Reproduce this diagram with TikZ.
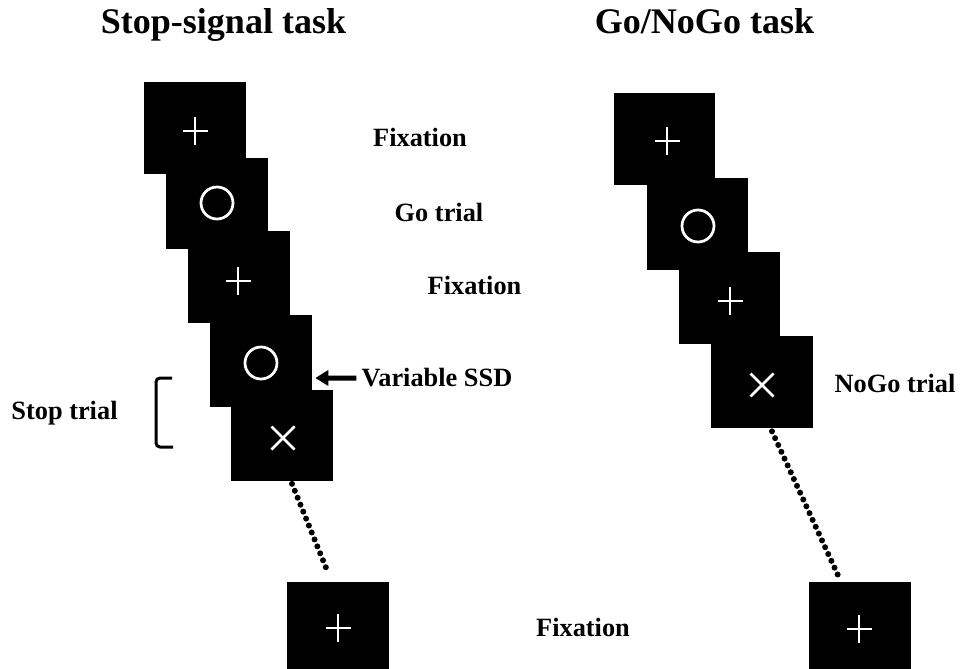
\documentclass[tikz,border=0pt]{standalone}
\usepackage{fontspec}
\setmainfont{Liberation Serif}
\usetikzlibrary{arrows.meta}
\begin{document}
\begin{tikzpicture}[x=0.02cm, y=-0.02cm,
  screen/.style={fill=black, draw=none, minimum width=2.04cm, minimum height=1.84cm, inner sep=0pt},
  sym/.style={draw=white, line width=0.055cm},
  title/.style={font=\fontsize{20.5}{24}\selectfont\bfseries, inner sep=0pt, anchor=base},
  lbl/.style={font=\fontsize{15}{18}\selectfont\bfseries, inner sep=0pt},
  dotline/.style={line width=0.12cm, line cap=round, dash pattern=on 0pt off 0.15cm},
  arr/.style={line width=0.1cm, -{Triangle[length=0.26cm, width=0.3cm]}},
  brk/.style={line width=0.06cm, rounded corners=0.08cm}
]
\useasboundingbox (0,0) rectangle (960,669);

% titles
\node[title] (t1) at (223.5,34) {Stop-signal task};
\node[title] (t2) at (704.5,34) {Go/NoGo task};

% stop-signal task screens
\node[screen] (s1) at (195,128) {};
\draw[sym] (195,131) ++(-12.5,0) -- ++(25,0) (195,131) ++(0,-14) -- ++(0,28);
\node[screen] (s2) at (217,203.5) {};
\draw[sym] (217,203) circle[radius=16];
\node[screen] (s3) at (239,277) {};
\draw[sym] (238,281) ++(-12.5,0) -- ++(25,0) (238,281) ++(0,-14) -- ++(0,28);
\node[screen] (s4) at (261,361) {};
\draw[sym] (261,363) circle[radius=16];
\node[screen] (s5) at (282,435.5) {};
\draw[sym] (283,438) ++(-11.5,-11.5) -- ++(23,23) (283,438) ++(-11.5,11.5) -- ++(23,-23);
\node[screen] (bl) at (338,628) {};
\draw[sym] (338,628) ++(-12.5,0) -- ++(25,0) (338,628) ++(0,-14) -- ++(0,28);

% go/nogo task screens
\node[screen] (r1) at (664.5,139) {};
\draw[sym] (667,141) ++(-12.5,0) -- ++(25,0) (667,141) ++(0,-14) -- ++(0,28);
\node[screen] (r2) at (697.5,224) {};
\draw[sym] (698,226) circle[radius=16];
\node[screen] (r3) at (729.5,298) {};
\draw[sym] (730,301) ++(-12.5,0) -- ++(25,0) (730,301) ++(0,-14) -- ++(0,28);
\node[screen] (r4) at (762,382) {};
\draw[sym] (762,385) ++(-11.5,-11.5) -- ++(23,23) (762,385) ++(-11.5,11.5) -- ++(23,-23);
\node[screen] (br) at (859.5,628) {};
\draw[sym] (859,629) ++(-12.5,0) -- ++(25,0) (859,629) ++(0,-14) -- ++(0,28);

% elapsed time between trials
\draw[dotline] ([xshift=0.2cm, yshift=-0.04cm]s5.south) -- ([xshift=-0.24cm, yshift=0.28cm]bl.north);
\draw[dotline] ([xshift=0.2cm, yshift=-0.06cm]r4.south) -- ([xshift=-0.39cm, yshift=0.04cm]br.north);

% labels
\node[lbl] (f1) at (420,137) {Fixation};
\node[lbl] (g1) at (439,212) {Go trial};
\node[lbl] (f2) at (474.5,285) {Fixation};
\node[lbl, inner xsep=0.1cm] (ssd) at (437,378) {Variable SSD};
\node[lbl] (st) at (64.5,413) {Stop trial};
\node[lbl] (ng) at (895,383) {NoGo trial};
\node[lbl] (f3) at (583,627) {Fixation};

% stop-signal delay arrow
\draw[arr] (ssd.west) -- ([xshift=0.06cm, yshift=-0.34cm]s4.east);

% bracket marking the stop trial
\draw[brk] (172,378) -- (156,378) -- (156,447) -- (173,447);
\end{tikzpicture}
\end{document}
